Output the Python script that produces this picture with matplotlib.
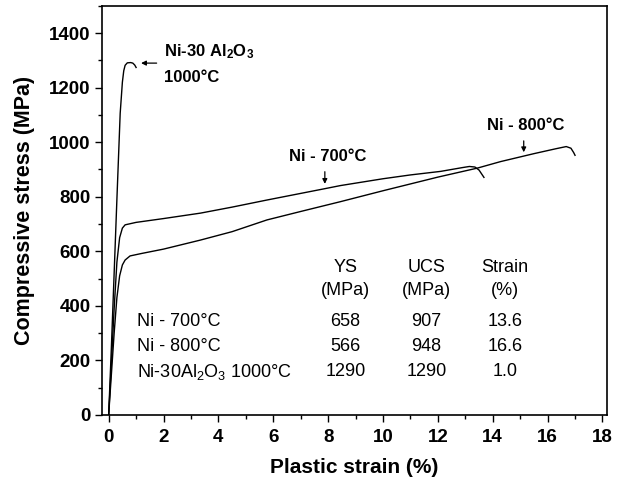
import matplotlib
matplotlib.use("Agg")
import matplotlib.pyplot as plt
from matplotlib.ticker import MultipleLocator

plt.rcParams['font.family'] = ['Liberation Sans', 'DejaVu Sans']
plt.rcParams['mathtext.fontset'] = 'custom'
plt.rcParams['mathtext.rm'] = 'Liberation Sans'
plt.rcParams['mathtext.bf'] = 'Liberation Sans:bold'
plt.rcParams['mathtext.default'] = 'regular'

# ---- data ----
ni700_strain = [0, 0.1, 0.2, 0.3, 0.4, 0.5, 0.6, 1.0, 2.0, 3.35, 4.5, 5.77, 7.9, 8.45,
                10.0, 11.0, 12.1, 12.5, 12.9, 13.15, 13.35, 13.5, 13.68]
ni700_stress = [0, 190, 390, 560, 650, 685, 697, 706, 720, 740, 762, 788, 830, 841,
                866, 880, 893, 900, 907, 911, 909, 898, 871]

ni800_strain = [0, 0.1, 0.2, 0.3, 0.4, 0.5, 0.6, 0.78, 1.2, 2.0, 3.34, 4.5, 5.77, 7.0,
                8.45, 10.0, 12.0, 13.44, 14.29, 15.5, 16.3, 16.68, 16.85, 16.95, 17.0]
ni800_stress = [0, 150, 300, 430, 510, 550, 568, 583, 592, 608, 641, 672, 715, 746,
                782, 822, 872, 905, 929, 958, 976, 984, 978, 962, 952]

nial_strain = [0, 0.1, 0.2, 0.3, 0.42, 0.5, 0.55, 0.6, 0.68, 0.8, 0.88, 0.95, 1.0]
nial_stress = [0, 250, 520, 790, 1106, 1220, 1262, 1282, 1291, 1292, 1290, 1283, 1274]

row_labels = ["Ni - 700°C", "Ni - 800°C", "Ni-30Al$_2$O$_3$ 1000°C"]
col_headers = [("YS", "(MPa)"), ("UCS", "(MPa)"), ("Strain", "(%)")]
ys_vals = ["658", "566", "1290"]
ucs_vals = ["907", "948", "1290"]
strain_vals = ["13.6", "16.6", "1.0"]

# ---- figure ----
fig = plt.figure(figsize=(6.17, 4.87), dpi=100)
ax = fig.add_axes([0.165, 0.148, 0.819, 0.840])

for xs, ys in [(ni700_strain, ni700_stress), (ni800_strain, ni800_stress),
               (nial_strain, nial_stress)]:
    ax.plot(xs, ys, color='black', lw=1.0)

ax.set_xlim(-0.25, 18.17)
ax.set_ylim(0, 1500)
ax.xaxis.set_major_locator(MultipleLocator(2))
ax.xaxis.set_minor_locator(MultipleLocator(1))
ax.yaxis.set_major_locator(MultipleLocator(200))
ax.yaxis.set_minor_locator(MultipleLocator(100))
ax.set_yticks(range(0, 1401, 200))
ax.tick_params(which='both', direction='out', top=False, right=False, width=1.0)
ax.tick_params(which='major', length=5, labelsize=13.5, pad=3)
ax.tick_params(axis='x', which='major', pad=5)
ax.tick_params(which='minor', length=3)
for lab in ax.get_xticklabels() + ax.get_yticklabels():
    lab.set_fontweight('bold')
for sp in ax.spines.values():
    sp.set_linewidth(1.2)

ax.set_xlabel("Plastic strain (%)", fontsize=15, fontweight='bold', labelpad=9)
ax.set_ylabel("Compressive stress (MPa)", fontsize=15.5, fontweight='bold', labelpad=10)

# curve annotations
arrow = dict(arrowstyle='-|>', color='black', lw=0.9, mutation_scale=7)
ax.annotate("", xy=(7.88, 837), xytext=(7.88, 902), arrowprops=arrow)
ax.text(7.98, 947, "Ni - 700°C", ha='center', va='center', fontsize=12, fontweight='bold')
ax.annotate("", xy=(15.13, 953), xytext=(15.13, 1015), arrowprops=arrow)
ax.text(15.2, 1063, "Ni - 800°C", ha='center', va='center', fontsize=12, fontweight='bold')
ax.annotate("", xy=(1.08, 1290), xytext=(1.85, 1290), arrowprops=arrow)
ax.text(2.0, 1333, "Ni-30 Al$_2$O$_3$", ha='left', va='center', fontsize=12, fontweight='bold')
ax.text(2.0, 1236, "1000°C", ha='left', va='center', fontsize=12, fontweight='bold')

# table
row_y = [344, 252, 159]
col_x = [8.63, 11.59, 14.45]
for lab, y in zip(row_labels, row_y):
    ax.text(1.03, y, lab, ha='left', va='center', fontsize=13)
for (h1, h2), x in zip(col_headers, col_x):
    ax.text(x, 542, h1, ha='center', va='center', fontsize=13)
    ax.text(x, 458, h2, ha='center', va='center', fontsize=13)
for vals, x in zip([ys_vals, ucs_vals, strain_vals], col_x):
    for v, y in zip(vals, row_y):
        ax.text(x, y, v, ha='center', va='center', fontsize=13)

fig.savefig("out.png", dpi=100)
